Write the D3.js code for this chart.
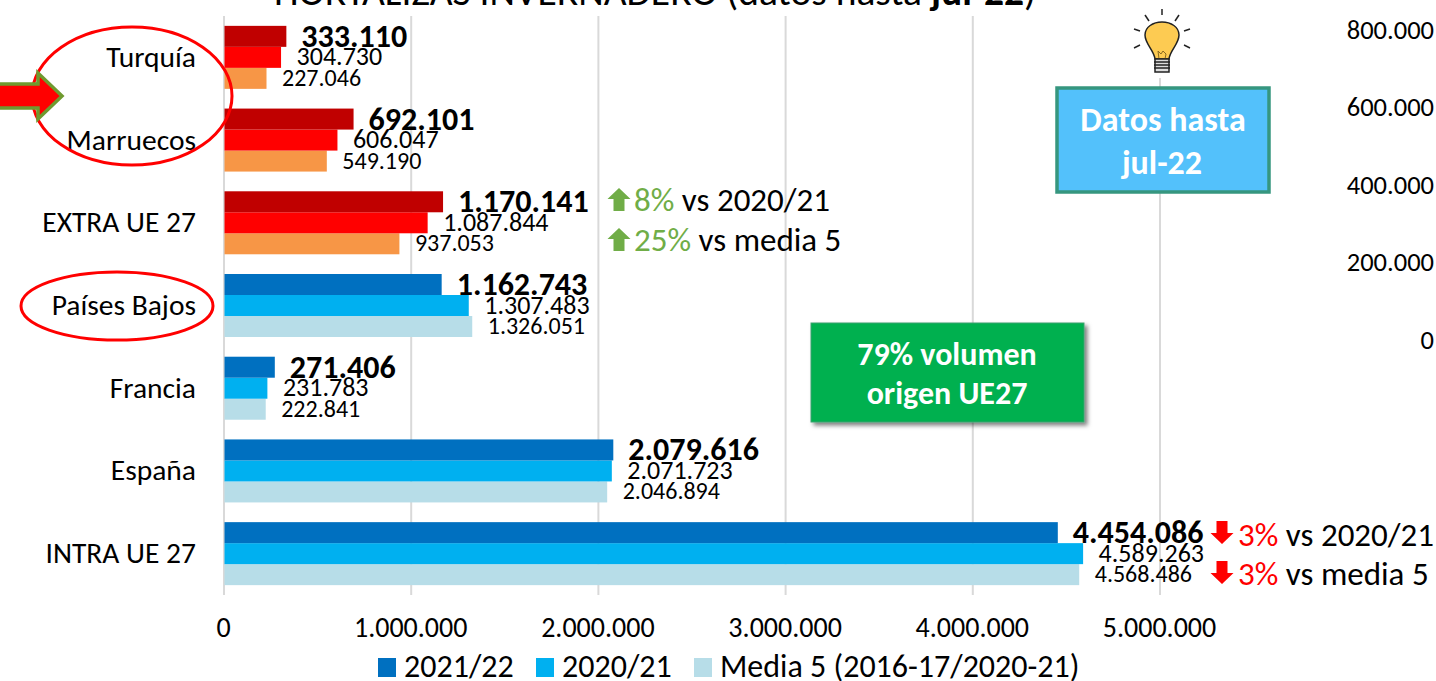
<!DOCTYPE html>
<html>
<head>
<meta charset="utf-8">
<script src="https://cdn.jsdelivr.net/npm/d3@7"></script>
<style>
html,body{margin:0;padding:0;background:#fff;overflow:hidden}
text{font-family:Carlito,"Open Sans","Liberation Sans",sans-serif;fill:#000}
</style>
</head>
<body>
<div id="chart"></div>
<script>
var categories=["Turquía","Marruecos","EXTRA UE 27","Países Bajos","Francia","España","INTRA UE 27"];
var actual=[333110,692101,1170141,1162743,271406,2079616,4454086];
var anterior=[304730,606047,1087844,1307483,231783,2071723,4589263];
var media=[227046,549190,937053,1326051,222841,2046894,4568486];
var seriesNames=["2021/22","2020/21","Media 5 (2016-17/2020-21)"];
var xTicks=[0,1000000,2000000,3000000,4000000,5000000];
var rightTicks=[800000,600000,400000,200000,0];
var extraCats=["Turquía","Marruecos","EXTRA UE 27"];
var azules=["#0070c0","#00b0f0","#b7dde8"];
var rojos=["#c00000","#ff0000","#f79646"];

var width=1436,height=681;
var fmt=function(v){return d3.format(",")(v).replace(/,/g,".")};

var svg=d3.select("#chart").append("svg")
    .attr("width",width)
    .attr("height",height);

var defs=svg.append("defs");
defs.append("filter").attr("id","sombra")
    .attr("x","-5%").attr("y","-5%").attr("width","115%").attr("height","120%")
    .append("feDropShadow")
    .attr("dx",3).attr("dy",3).attr("stdDeviation",2)
    .attr("flood-color","#000").attr("flood-opacity",.5);

var x=d3.scaleLinear().domain([0,5000000]).range([224,1160]);
var y=d3.scaleBand().domain(categories).range([16,595]);
var yRight=d3.scaleLinear().domain([0,800000]).range([340,30]);

var titulo=svg.append("text")
    .attr("x",655).attr("y",5)
    .attr("text-anchor","middle")
    .style("font-size","39.5px");
titulo.append("tspan").text("HORTALIZAS INVERNADERO (datos hasta ");
titulo.append("tspan").style("font-weight","bold").text("jul-22");
titulo.append("tspan").text(")");

// rejilla
svg.append("g").selectAll("line").data(xTicks).enter().append("line")
    .attr("x1",function(d){return x(d)}).attr("x2",function(d){return x(d)})
    .attr("y1",16).attr("y2",595)
    .attr("stroke","#d9d9d9").attr("stroke-width",2);

// barras
var h=21;
function serie(values,idx,sizes,weight,dx,dy){
    var g=svg.append("g");
    g.selectAll("rect").data(categories).enter().append("rect")
        .attr("x",x(0)+.5)
        .attr("y",function(d){return y(d)+y.bandwidth()/2-31.5+idx*h})
        .attr("width",function(d,i){return x(values[i])-x(0)-.5})
        .attr("height",h)
        .attr("fill",function(d){return (extraCats.indexOf(d)>=0?rojos:azules)[idx]});
    g.selectAll("text").data(categories).enter().append("text")
        .attr("x",function(d,i){return x(values[i])+dx})
        .attr("y",function(d){return y(d)+y.bandwidth()/2-31.5+idx*h+h/2+dy})
        .style("font-size",sizes+"px")
        .style("font-weight",weight)
        .text(function(d,i){return fmt(values[i])});
}
serie(media,2,24,"normal",15.5,7.5);
serie(anterior,1,26,"normal",15.5,8);
serie(actual,0,32,"bold",15,10.5);

// ejes
var axisY=d3.axisLeft(y).tickSize(0).tickPadding(28);
var gy=svg.append("g").attr("transform","translate(224,0)").call(axisY);
gy.select(".domain").remove();
gy.selectAll("text").style("font-size","29.5px");

var axisX=d3.axisBottom(x).tickValues(xTicks).tickFormat(fmt).tickSize(0).tickPadding(23);
var gx=svg.append("g").attr("transform","translate(-1,594)").call(axisX);
gx.select(".domain").remove();
gx.selectAll("text").style("font-size","28px");

var axisR=d3.axisLeft(yRight).tickValues(rightTicks).tickFormat(fmt).tickSize(0).tickPadding(0);
var gr=svg.append("g").attr("transform","translate(1434,0)").call(axisR);
gr.select(".domain").remove();
gr.selectAll("text").style("font-size","26.5px");

// leyenda
var leg=[[378,404],[536,562],[694,720]];
seriesNames.forEach(function(n,i){
    svg.append("rect").attr("x",leg[i][0]).attr("y",658).attr("width",18).attr("height",19).attr("fill",azules[i]);
    svg.append("text").attr("x",leg[i][1]).attr("y",677).style("font-size","32px").text(n);
});

// variaciones
function flecha(cx,top,color,up){
    var s=up?-1:1, base=up?top+23:top;
    var p=[[-5.5,0],[5.5,0],[5.5,12],[11.5,12],[0,23],[-11.5,12],[-5.5,12]];
    svg.append("path")
        .attr("d","M"+p.map(function(q){return [cx+q[0],base+s*q[1]].join(",")}).join("L")+"Z")
        .attr("fill",color);
}
function nota(ax,top,base,color,up,pct,txt,tx){
    flecha(ax,top,color,up);
    var t=svg.append("text").attr("x",tx).attr("y",base).style("font-size","33px");
    t.append("tspan").style("fill",color).text(pct);
    t.append("tspan").text(" "+txt);
}
nota(619,188,211,"#70ad47",true,"8%","vs 2020/21",634);
nota(619,228,251,"#70ad47",true,"25%","vs media 5",634);
nota(1222,521,546,"#ff0000",false,"3%","vs 2020/21",1238);
nota(1222,561,585,"#ff0000",false,"3%","vs media 5",1238);

// cajas
svg.append("rect").attr("x",1057).attr("y",88).attr("width",212).attr("height",104)
    .attr("fill","#53c1fb").attr("stroke","#36967f").attr("stroke-width",3.5);
svg.append("text").attr("x",1163).attr("y",131).attr("text-anchor","middle")
    .style("font-size","34px").style("font-weight","bold").style("fill","#fff").text("Datos hasta");
svg.append("text").attr("x",1162).attr("y",174).attr("text-anchor","middle")
    .style("font-size","34px").style("font-weight","bold").style("fill","#fff").text("jul-22");

svg.append("rect").attr("x",811).attr("y",323).attr("width",273).attr("height",99)
    .attr("fill","#00b050").attr("stroke","#3fa06e").attr("stroke-width",1)
    .attr("filter","url(#sombra)");
svg.append("text").attr("x",947).attr("y",365).attr("text-anchor","middle")
    .style("font-size","32px").style("font-weight","bold").style("fill","#fff").text("79% volumen");
svg.append("text").attr("x",947).attr("y",404).attr("text-anchor","middle")
    .style("font-size","32px").style("font-weight","bold").style("fill","#fff").text("origen UE27");

// elipses
svg.append("ellipse").attr("cx",132).attr("cy",96).attr("rx",100).attr("ry",69)
    .attr("fill","none").attr("stroke","#ff0000").attr("stroke-width",3);
svg.append("ellipse").attr("cx",117).attr("cy",306).attr("rx",96).attr("ry",34)
    .attr("fill","none").attr("stroke","#ff0000").attr("stroke-width",3);

// flecha roja
svg.append("path").attr("d","M-3,84H38V73L62,96L38,119V108H-3Z")
    .attr("fill","#ff0000").attr("stroke","#6f9a2f").attr("stroke-width",3.5);

// bombilla
var b=svg.append("g").attr("transform","translate(1162,0)");
b.append("rect").attr("x",-32).attr("y",6).attr("width",64).attr("height",72).attr("fill","#fff");
b.append("path").attr("d","M-7,59C-8,50 -17,44 -17,35C-17,27 -9,22 0,22C9,22 17,27 17,35C17,44 8,50 7,59Z")
    .attr("fill","#fdcb52").attr("stroke","#222").attr("stroke-width",1.5);
b.append("path").attr("d","M-3,59L-4,51L-1,54L1,51L4,54L3,59").attr("fill","none").attr("stroke","#8a6a20").attr("stroke-width",1);
b.append("path").attr("d","M-7,59H7V72H-7Z").attr("fill","#ddd").attr("stroke","#222").attr("stroke-width",1.5);
[62,65,68].forEach(function(v){
    b.append("line").attr("x1",-8).attr("x2",8).attr("y1",v).attr("y2",v).attr("stroke","#222").attr("stroke-width",1.5);
});
[[0,9,0,15],[-17,15,-13,21],[17,15,13,21],[-28,29,-22,31],[28,29,22,31],[-28,48,-22,45],[28,48,22,45]].forEach(function(l){
    b.append("line").attr("x1",l[0]).attr("y1",l[1]).attr("x2",l[2]).attr("y2",l[3]).attr("stroke","#222").attr("stroke-width",1.5);
});
</script>
</body>
</html>
